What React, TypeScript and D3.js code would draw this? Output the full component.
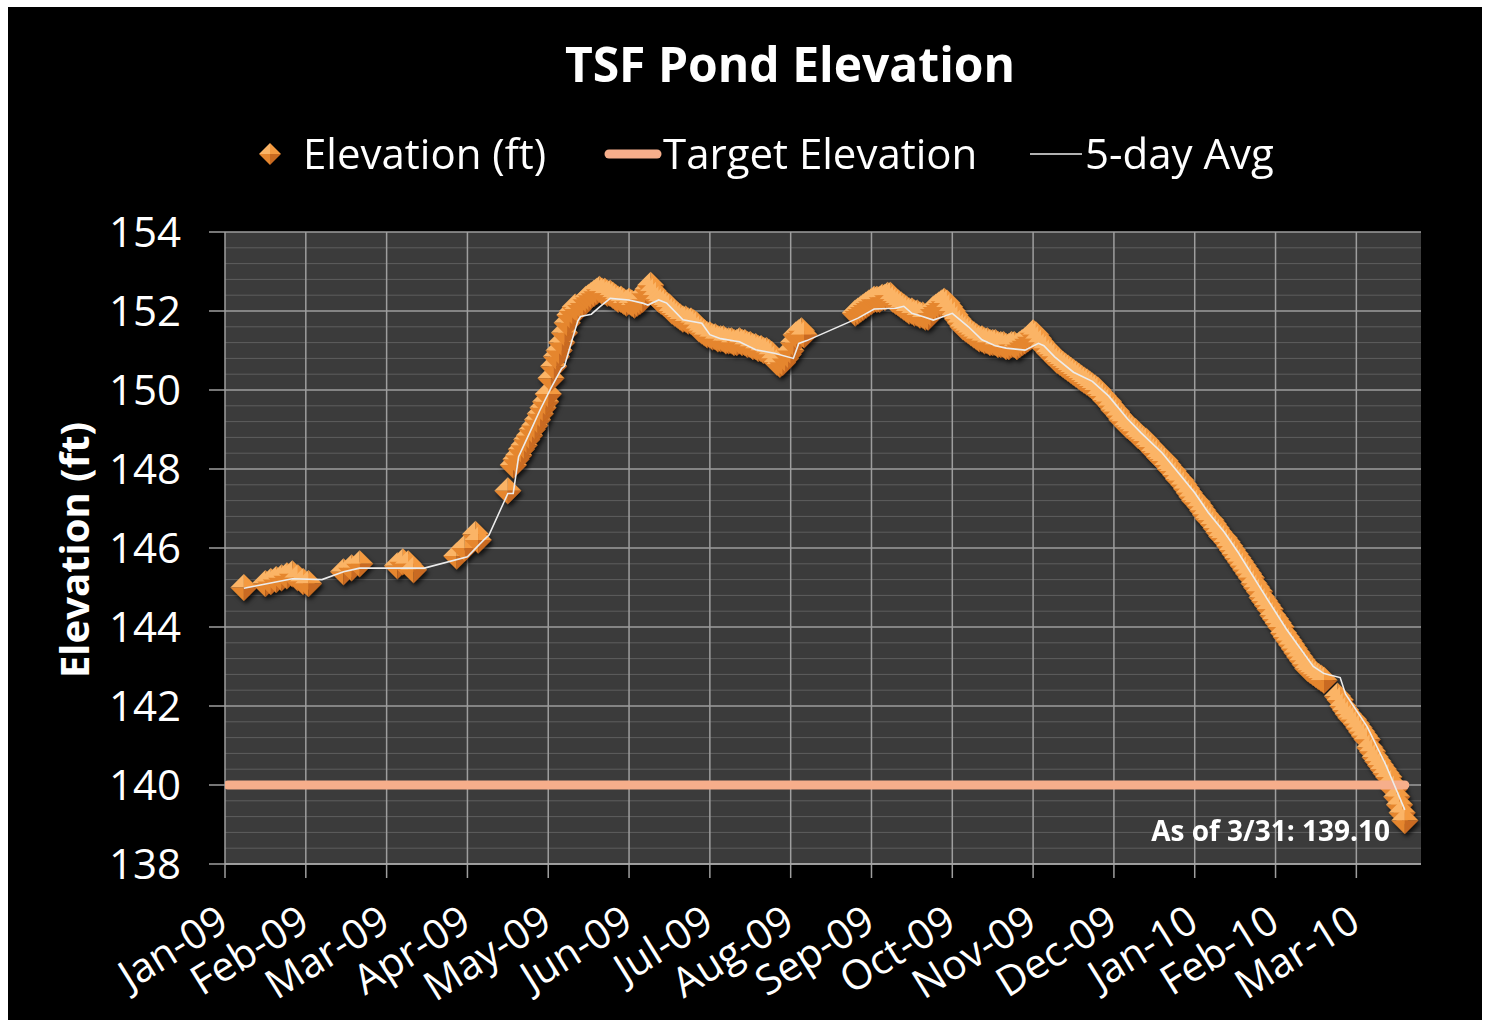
import { useEffect, useRef } from "react";
import * as d3 from "d3";

const chartTitle = "TSF Pond Elevation";
const yAxisTitle = "Elevation (ft)";
const legendLabels = ["Elevation (ft)", "Target Elevation", "5-day Avg"];
const monthLabels = [
  "Jan-09", "Feb-09", "Mar-09", "Apr-09", "May-09", "Jun-09", "Jul-09", "Aug-09",
  "Sep-09", "Oct-09", "Nov-09", "Dec-09", "Jan-10", "Feb-10", "Mar-10",
];
const yTicks = [138, 140, 142, 144, 146, 148, 150, 152, 154];
const axisStart = "2009-01-17";
const axisEnd = "2010-04-06";
const tickStepDays = 30;

// sparse readings, winter / spring 2009
const earlyReadings: [string, number][] = [
  ["2009-01-24", 145.0],
  ["2009-02-01", 145.1], ["2009-02-03", 145.15], ["2009-02-05", 145.2], ["2009-02-07", 145.25],
  ["2009-02-09", 145.3], ["2009-02-11", 145.35], ["2009-02-13", 145.25], ["2009-02-15", 145.15],
  ["2009-02-17", 145.1],
  ["2009-03-02", 145.4], ["2009-03-05", 145.5], ["2009-03-08", 145.6],
  ["2009-03-22", 145.55], ["2009-03-24", 145.65], ["2009-03-26", 145.6], ["2009-03-28", 145.45],
  ["2009-04-13", 145.8], ["2009-04-16", 146.0], ["2009-04-20", 146.35], ["2009-04-21", 146.2],
  ["2009-05-02", 147.45],
];

// daily readings 2009-05-04 .. 2009-08-20
const mayToAugStart = "2009-05-04";
const mayToAug = [
  148.1, 148.25, 148.35, 148.5, 148.6, 148.75, 148.85, 149.0, 149.1, 149.25, 149.4, 149.55, 149.7, 149.9,
  150.3, 150.6, 150.85, 151.0, 151.2, 151.45, 151.7, 151.9, 152.0, 152.1, 152.05, 152.15, 152.2, 152.3,
  152.35, 152.4, 152.45, 152.5, 152.55, 152.5, 152.5, 152.45, 152.45, 152.4, 152.35, 152.3, 152.3, 152.25,
  152.2, 152.25, 152.2, 152.15, 152.2, 152.25, 152.3, 152.45, 152.55, 152.65, 152.5, 152.4, 152.3, 152.25,
  152.2, 152.15,
  152.1, 152.0, 151.95, 151.9, 151.85, 151.8, 151.8, 151.75, 151.75, 151.7, 151.65, 151.55, 151.5, 151.45,
  151.4, 151.4, 151.35, 151.35, 151.3, 151.3, 151.3, 151.25, 151.25, 151.25, 151.2, 151.2, 151.25, 151.2,
  151.2, 151.15, 151.15,
  151.1, 151.1, 151.05, 151.05, 151.0, 151.0, 150.95, 150.9, 150.8, 150.7, 150.65, 150.7, 150.8, 150.9,
  151.0, 151.2, 151.4, 151.45, 151.5, 151.4,
];

// daily readings 2009-09-08 .. 2010-03-01
const sepToMarStart = "2009-09-08";
const sepToMar = [
  151.95, 152.0, 152.05, 152.1, 152.15, 152.2, 152.25, 152.3, 152.3, 152.3, 152.35, 152.35, 152.4, 152.4,
  152.3, 152.25, 152.2, 152.15, 152.1, 152.05, 152.0, 152.0, 151.95,
  151.95, 151.9, 151.9, 151.85, 151.85, 151.95, 152.05, 152.1, 152.15, 152.2, 152.25, 152.2, 152.1, 152.0,
  151.9, 151.8, 151.7, 151.6, 151.55, 151.5, 151.45, 151.4, 151.35, 151.3, 151.3, 151.25, 151.25, 151.2,
  151.2, 151.2, 151.15,
  151.15, 151.15, 151.1, 151.1, 151.15, 151.15, 151.1, 151.15, 151.2, 151.25, 151.3, 151.35, 151.45, 151.4,
  151.3, 151.2, 151.1, 151.05, 150.95, 150.9, 150.85, 150.75, 150.7, 150.65, 150.6, 150.55, 150.5, 150.45,
  150.4, 150.35,
  150.3, 150.25, 150.2, 150.15, 150.1, 150.05, 150.0, 149.9, 149.85, 149.75, 149.7, 149.6, 149.5, 149.45,
  149.35, 149.25, 149.2, 149.1, 149.05, 149.0, 148.95, 148.85, 148.8, 148.75, 148.7, 148.6, 148.55, 148.45,
  148.4, 148.3, 148.25,
  148.2, 148.1, 148.0, 147.95, 147.85, 147.75, 147.7, 147.6, 147.5, 147.4, 147.3, 147.2, 147.15, 147.05,
  146.95, 146.85, 146.75, 146.7, 146.6, 146.5, 146.4, 146.3, 146.25, 146.15, 146.05, 145.95, 145.85, 145.75,
  145.65, 145.55, 145.45,
  145.35, 145.25, 145.1, 145.0, 144.9, 144.75, 144.65, 144.55, 144.45, 144.3, 144.2, 144.1, 144.0, 143.85,
  143.75, 143.65, 143.55, 143.45, 143.35, 143.25, 143.15, 143.05, 142.95, 142.9, 142.85, 142.8, 142.75, 142.7,
  142.65,
];

// daily readings 2010-03-06 .. 2010-03-31
const marchStart = "2010-03-06";
const march = [
  142.25, 142.15, 142.0, 141.9, 141.8, 141.7, 141.65, 141.55, 141.45, 141.35, 141.25, 141.15, 140.95,
  140.85, 140.7, 140.6, 140.5, 140.4, 140.3, 140.2, 140.05, 139.9, 139.7, 139.5, 139.3, 139.1,
];

// 5-day average line
const avgPoints: [string, number][] = [
  ["2009-01-24", 144.98], ["2009-02-02", 145.1], ["2009-02-11", 145.22], ["2009-02-22", 145.2],
  ["2009-03-02", 145.4], ["2009-03-08", 145.49], ["2009-04-01", 145.49], ["2009-04-17", 145.78],
  ["2009-04-23", 146.2], ["2009-04-25", 146.33], ["2009-05-02", 147.38], ["2009-05-04", 147.38],
  ["2009-05-06", 148.31], ["2009-05-10", 148.9], ["2009-05-14", 149.5], ["2009-05-18", 150.05],
  ["2009-05-20", 150.3], ["2009-05-22", 150.55], ["2009-05-23", 150.6], ["2009-05-26", 151.3],
  ["2009-05-28", 151.75], ["2009-05-29", 151.86], ["2009-06-02", 151.92], ["2009-06-05", 152.1],
  ["2009-06-09", 152.32], ["2009-06-16", 152.28], ["2009-06-21", 152.2], ["2009-06-23", 152.15],
  ["2009-06-27", 152.28], ["2009-06-30", 152.2], ["2009-07-06", 151.78], ["2009-07-13", 151.69],
  ["2009-07-16", 151.4], ["2009-07-20", 151.3], ["2009-07-27", 151.22], ["2009-08-02", 151.02],
  ["2009-08-09", 150.93], ["2009-08-16", 150.8], ["2009-08-18", 151.18], ["2009-08-21", 151.25],
  ["2009-09-09", 151.82], ["2009-09-15", 152.05], ["2009-09-23", 152.07], ["2009-09-26", 152.12],
  ["2009-09-29", 151.94], ["2009-10-03", 151.86], ["2009-10-07", 151.77], ["2009-10-14", 151.94],
  ["2009-10-20", 151.6], ["2009-10-25", 151.27], ["2009-10-30", 151.12], ["2009-11-03", 151.06],
  ["2009-11-10", 151.01], ["2009-11-15", 151.18], ["2009-11-17", 151.12], ["2009-11-21", 150.84],
  ["2009-11-28", 150.45], ["2009-12-05", 150.22], ["2009-12-11", 149.85], ["2009-12-18", 149.27],
  ["2009-12-23", 148.92], ["2009-12-31", 148.4], ["2010-01-06", 147.9], ["2010-01-12", 147.4],
  ["2010-01-17", 146.9], ["2010-01-23", 146.4], ["2010-01-28", 145.9], ["2010-02-08", 144.7],
  ["2010-02-15", 143.95], ["2010-02-25", 143.0], ["2010-03-01", 142.82], ["2010-03-07", 142.72],
  ["2010-03-09", 142.3], ["2010-03-17", 141.48], ["2010-03-24", 140.5], ["2010-03-31", 139.37],
];

const targetElevation = 140;
const targetDates = ["2009-01-18", "2010-03-31"];
const noteText = "As of 3/31: 139.10";

const FONT = "'Open Sans', 'DejaVu Sans', sans-serif";

const App = () => {
  const svgRef = useRef<SVGSVGElement>(null);
  const width = 1490;
  const height = 1027;

  useEffect(() => {
    const parse = d3.timeParse("%Y-%m-%d");
    const plot = { left: 225, right: 1421, top: 232, bottom: 864 };

    const xScale = d3
      .scaleTime()
      .domain([parse(axisStart)!, parse(axisEnd)!])
      .range([plot.left, plot.right]);
    const yScale = d3.scaleLinear().domain([138, 154]).range([plot.bottom, plot.top]);

    const daily = (start: string, values: number[]) =>
      values.map((v, i) => ({ date: d3.timeDay.offset(parse(start)!, i), value: v }));
    const elevation = [
      ...earlyReadings.map(([d, v]) => ({ date: parse(d)!, value: v })),
      ...daily(mayToAugStart, mayToAug),
      ...daily(sepToMarStart, sepToMar),
      ...daily(marchStart, march),
    ];
    const avg = avgPoints.map(([d, v]) => ({ date: parse(d)!, value: v }));
    const target = targetDates.map((d) => ({ date: parse(d)!, value: targetElevation }));
    const tickDates = monthLabels.map((_, i) =>
      d3.timeDay.offset(parse(axisStart)!, tickStepDays * i)
    );

    const svgEl = d3.select(svgRef.current);
    svgEl.selectAll("*").remove();

    // page + black slide background
    svgEl.append("rect").attr("width", width).attr("height", height).attr("fill", "#fff");
    svgEl.append("rect").attr("x", 8).attr("y", 7).attr("width", 1474).attr("height", 1013).attr("fill", "#000");

    const defs = svgEl.append("defs");
    const shadow = defs.append("filter").attr("id", "mshadow").attr("x", "-20%").attr("y", "-20%").attr("width", "140%").attr("height", "140%");
    shadow
      .append("feDropShadow")
      .attr("dx", 2)
      .attr("dy", 3)
      .attr("stdDeviation", 2)
      .attr("flood-color", "#000")
      .attr("flood-opacity", 0.75);
    defs.append("clipPath").attr("id", "plotclip")
      .append("rect")
      .attr("x", plot.left).attr("y", plot.top)
      .attr("width", plot.right - plot.left).attr("height", plot.bottom - plot.top);

    // bevelled diamond marker, 4 facets
    const h = 13.5;
    const diamond = defs.append("g").attr("id", "diamond");
    const facets = [
      { pts: [[0, -h], [-h, 0], [0, 0]], fill: "#fbb466" },
      { pts: [[0, -h], [h, 0], [0, 0]], fill: "#f49a40" },
      { pts: [[-h, 0], [0, h], [0, 0]], fill: "#e5862f" },
      { pts: [[h, 0], [0, h], [0, 0]], fill: "#c96a20" },
    ];
    facets.forEach((f) =>
      diamond.append("path").attr("d", "M" + f.pts.map((p) => p.join(",")).join("L") + "Z").attr("fill", f.fill)
    );
    const legendDiamond = defs.append("g").attr("id", "ldiamond");
    const lh = 11;
    facets.forEach((f) =>
      legendDiamond.append("path")
        .attr("d", "M" + f.pts.map((p) => p.map((c) => (c / h) * lh).join(",")).join("L") + "Z")
        .attr("fill", f.fill)
    );

    // plot area
    svgEl.append("rect")
      .attr("x", plot.left).attr("y", plot.top)
      .attr("width", plot.right - plot.left).attr("height", plot.bottom - plot.top)
      .attr("fill", "#3b3b3b");

    // minor gridlines every 0.4 ft
    const minor = d3.range(0, 41).map((i) => 138 + i * 0.4).filter((v) => Math.abs(v / 2 - Math.round(v / 2)) > 0.01);
    svgEl.append("g").selectAll("line").data(minor).enter().append("line")
      .attr("x1", plot.left).attr("x2", plot.right)
      .attr("y1", (d) => yScale(d)).attr("y2", (d) => yScale(d))
      .attr("stroke", "#5e5e5e").attr("stroke-width", 1);

    // major horizontal gridlines + y ticks
    const yAxis = svgEl.append("g");
    yAxis.selectAll("line").data(yTicks).enter().append("line")
      .attr("x1", plot.left - 16).attr("x2", plot.right)
      .attr("y1", (d) => yScale(d)).attr("y2", (d) => yScale(d))
      .attr("stroke", "#9e9e9e").attr("stroke-width", 1.5);
    yAxis.selectAll("text").data(yTicks).enter().append("text")
      .attr("x", 181).attr("y", (d) => yScale(d))
      .attr("dy", "0.36em")
      .attr("text-anchor", "end")
      .attr("fill", "#fff")
      .attr("font-family", FONT)
      .attr("font-size", 42)
      .text((d) => d);

    // vertical gridlines at month ticks
    const xAxis = svgEl.append("g");
    xAxis.selectAll("line").data(tickDates).enter().append("line")
      .attr("x1", (d) => xScale(d)).attr("x2", (d) => xScale(d))
      .attr("y1", plot.top).attr("y2", plot.bottom + 14)
      .attr("stroke", "#9e9e9e").attr("stroke-width", 1.5);
    xAxis.append("line")
      .attr("x1", plot.left).attr("x2", plot.right)
      .attr("y1", plot.bottom).attr("y2", plot.bottom)
      .attr("stroke", "#a8a8a8").attr("stroke-width", 1.5);
    xAxis.selectAll("text").data(tickDates).enter().append("text")
      .attr("transform", (d) => `translate(${xScale(d) + 6},${928}) rotate(-32)`)
      .attr("text-anchor", "end")
      .attr("fill", "#fff")
      .attr("font-family", FONT)
      .attr("font-size", 41)
      .text((_, i) => monthLabels[i]);

    // series
    const series = svgEl.append("g").attr("clip-path", "url(#plotclip)");
    series.append("g").attr("filter", "url(#mshadow)")
      .selectAll("use").data(elevation).enter().append("use")
      .attr("href", "#diamond")
      .attr("x", (d) => xScale(d.date))
      .attr("y", (d) => yScale(d.value));

    const line = d3.line<{ date: Date; value: number }>()
      .x((d) => xScale(d.date))
      .y((d) => yScale(d.value));
    series.append("path")
      .attr("d", line(target))
      .attr("fill", "none")
      .attr("stroke", "#f6ae8b")
      .attr("stroke-width", 9)
      .attr("stroke-linecap", "round");
    series.append("path")
      .attr("d", line(avg))
      .attr("fill", "none")
      .attr("stroke", "#ececec")
      .attr("stroke-width", 1.6);

    // note
    svgEl.append("text")
      .attr("x", 1390).attr("y", 841)
      .attr("text-anchor", "end")
      .attr("fill", "#fff")
      .attr("font-family", FONT)
      .attr("font-weight", "bold")
      .attr("font-size", 28)
      .text(noteText);

    // titles
    svgEl.append("text")
      .attr("x", 790).attr("y", 82)
      .attr("text-anchor", "middle")
      .attr("fill", "#fff")
      .attr("font-family", FONT)
      .attr("font-weight", "bold")
      .attr("font-size", 48)
      .text(chartTitle);
    svgEl.append("text")
      .attr("transform", "translate(89,550) rotate(-90)")
      .attr("text-anchor", "middle")
      .attr("fill", "#fff")
      .attr("font-family", FONT)
      .attr("font-weight", "bold")
      .attr("font-size", 40)
      .text(yAxisTitle);

    // legend
    const legend = svgEl.append("g").attr("font-family", FONT).attr("font-size", 42).attr("fill", "#fff");
    legend.append("use").attr("href", "#ldiamond").attr("x", 270).attr("y", 154);
    legend.append("text").attr("x", 303).attr("y", 154).attr("dy", "0.36em").text(legendLabels[0]);
    legend.append("line")
      .attr("x1", 609).attr("x2", 657).attr("y1", 154).attr("y2", 154)
      .attr("stroke", "#f6ae8b").attr("stroke-width", 9).attr("stroke-linecap", "round");
    legend.append("text").attr("x", 663).attr("y", 154).attr("dy", "0.36em").text(legendLabels[1]);
    legend.append("line")
      .attr("x1", 1030).attr("x2", 1082).attr("y1", 154).attr("y2", 154)
      .attr("stroke", "#ececec").attr("stroke-width", 1.6);
    legend.append("text").attr("x", 1085).attr("y", 154).attr("dy", "0.36em").text(legendLabels[2]);
  }, []);

  return (
    <svg
      ref={svgRef}
      width={width}
      height={height}
      style={{ position: "absolute", left: 0, top: 0 }}
    />
  );
};

export default App;
